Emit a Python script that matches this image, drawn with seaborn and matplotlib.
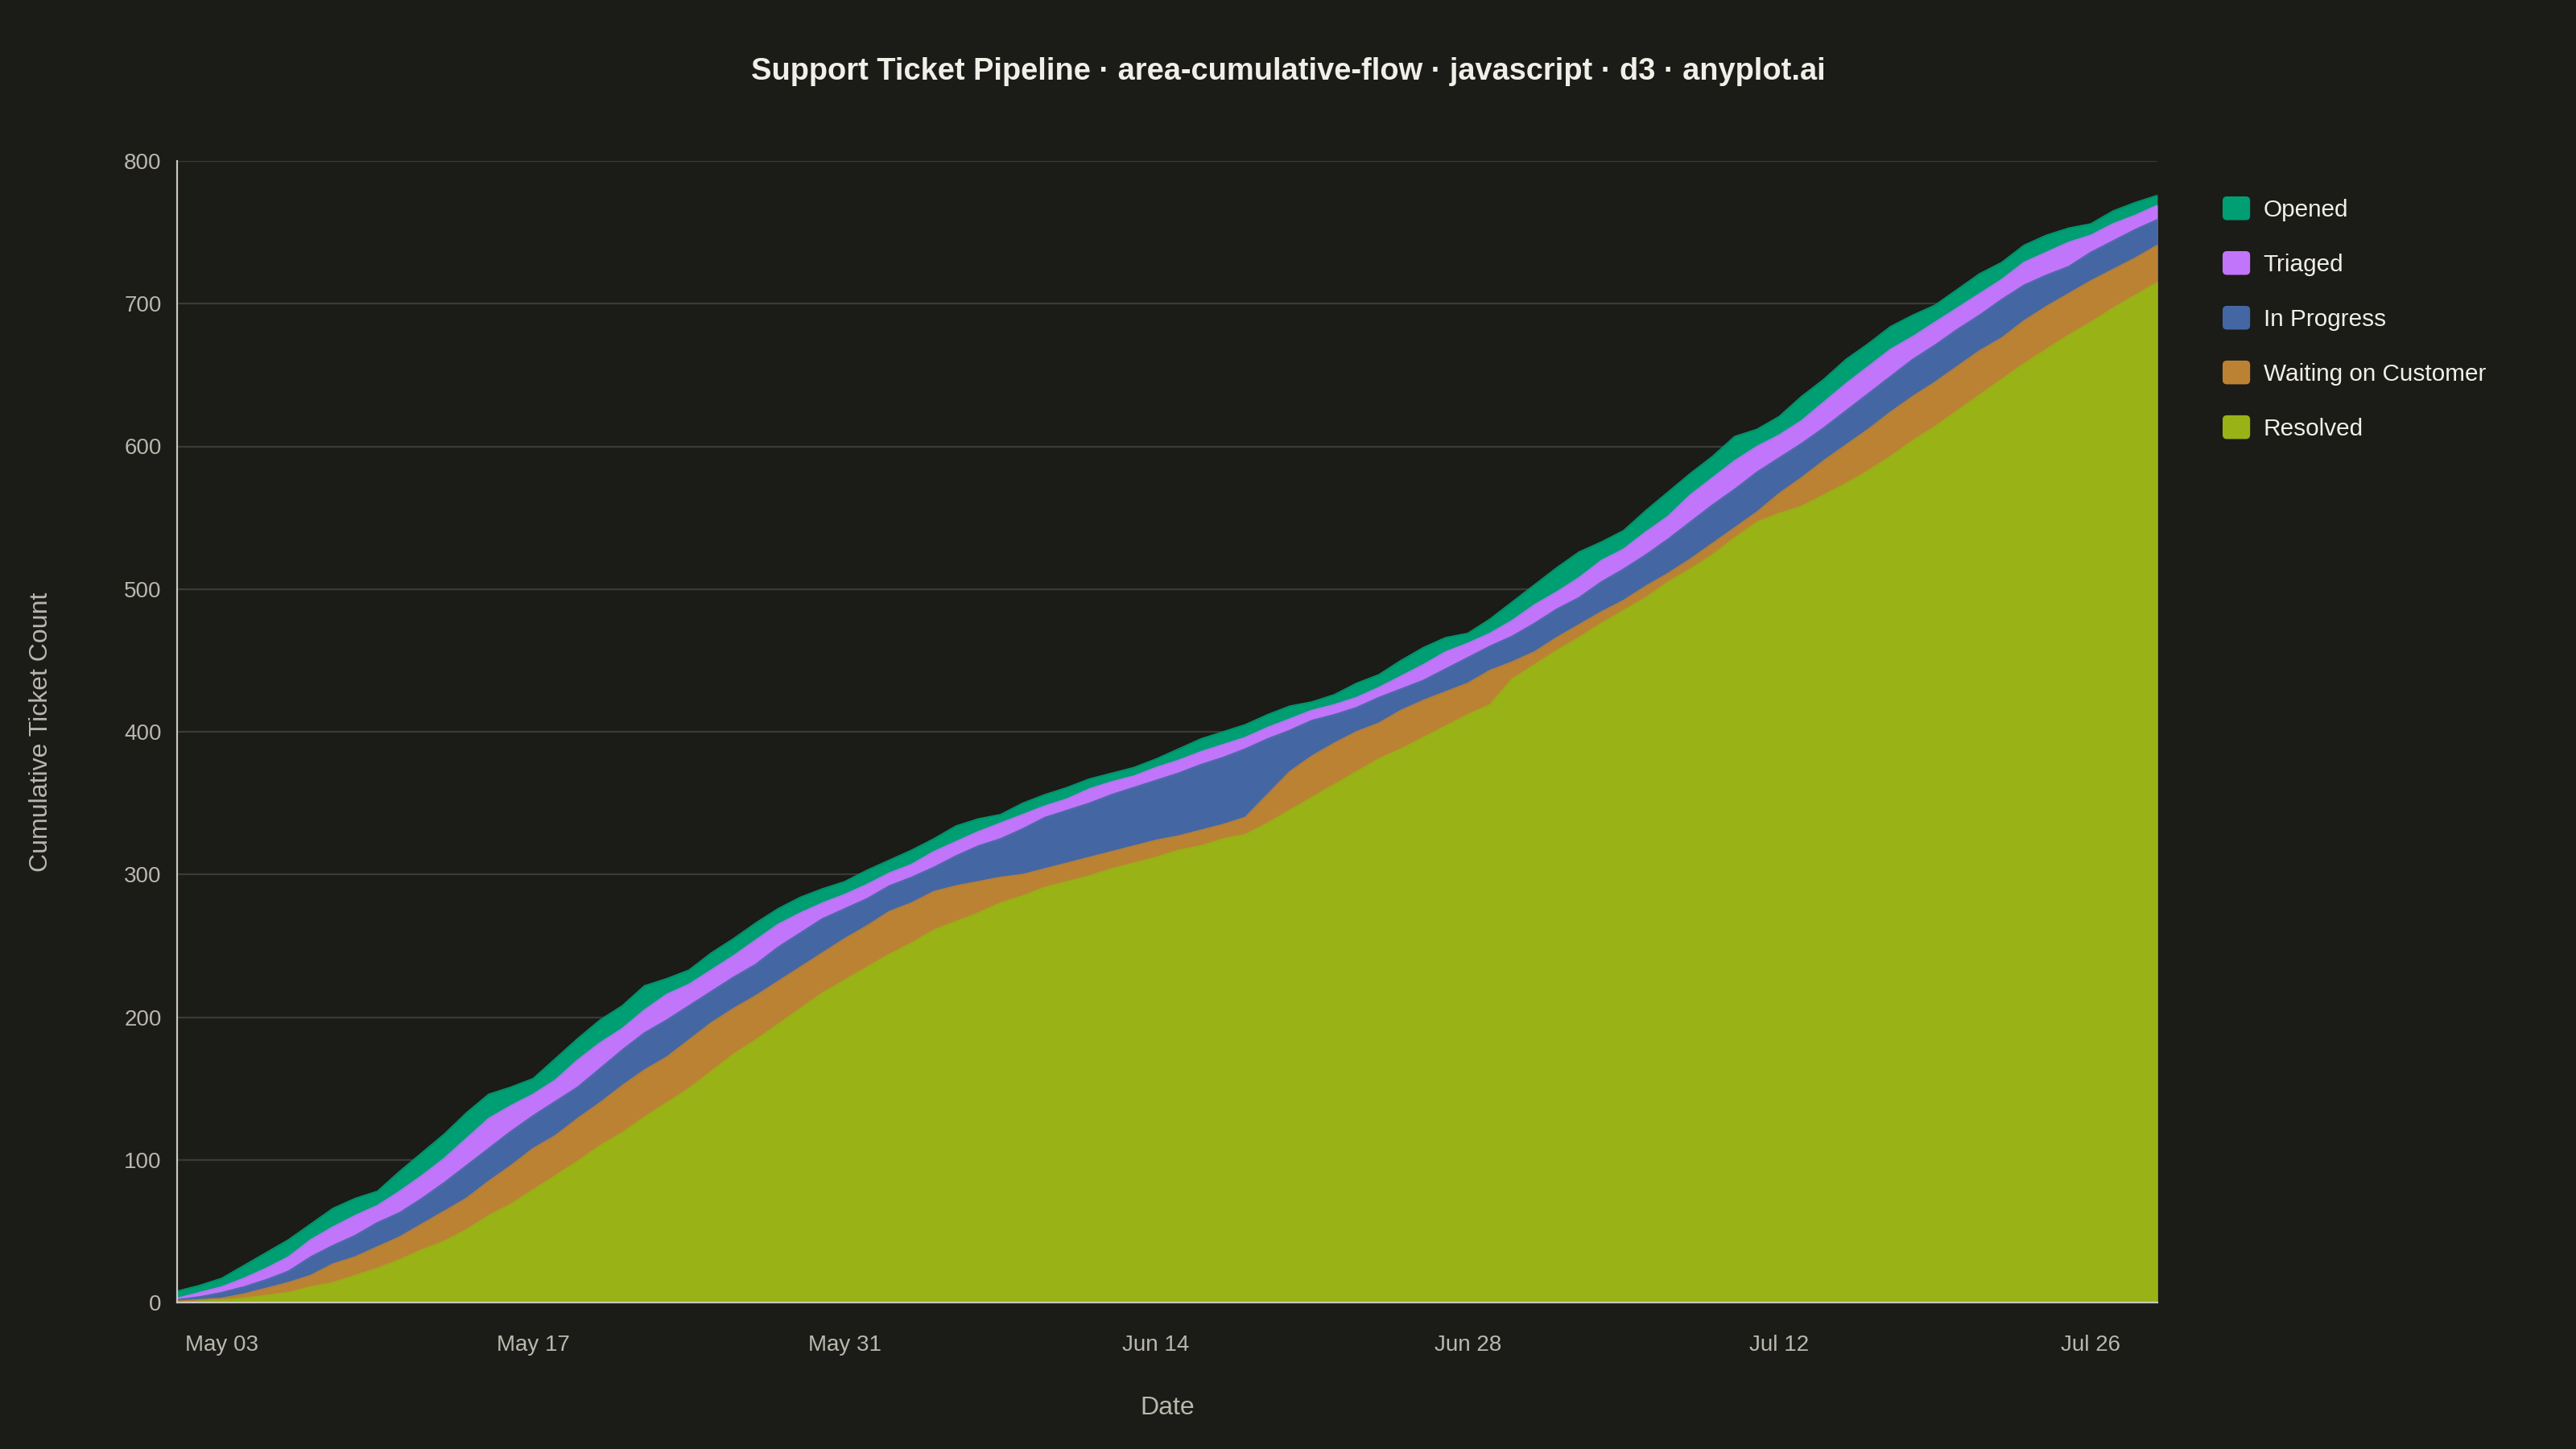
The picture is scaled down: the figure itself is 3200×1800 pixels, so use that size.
import pandas as pd
import numpy as np
import matplotlib
matplotlib.use("Agg")
import matplotlib.pyplot as plt
import matplotlib.dates as mdates
from matplotlib.patches import Patch, FancyBboxPatch
from matplotlib.legend_handler import HandlerPatch
import seaborn as sns

# cumulative tickets that reached each stage, one value per day from May 01
start_date = "2026-05-01"
n_days = 90

opened = [8, 12, 17, 26, 35, 44, 55, 66, 73, 78, 92, 105, 118, 133, 146, 151, 157, 171, 185, 198,
          208, 222, 227, 233, 245, 255, 266, 276, 284, 290, 295, 303, 310, 317, 325, 334, 339, 342, 350, 356,
          361, 367, 371, 375, 381, 388, 395, 400, 405, 412, 418, 421, 426, 434, 440, 450, 459, 466, 469, 479,
          491, 503, 515, 526, 533, 541, 555, 568, 581, 593, 607, 612, 621, 635, 647, 661, 672, 684, 692, 699,
          710, 721, 729, 741, 748, 753, 756, 765, 771, 776]
triaged = [3, 7, 11, 17, 24, 32, 44, 53, 61, 68, 78, 89, 101, 115, 129, 138, 146, 156, 170, 182,
           192, 205, 216, 223, 233, 243, 254, 265, 273, 280, 286, 293, 301, 307, 316, 323, 330, 336, 342, 348,
           353, 360, 365, 369, 375, 380, 386, 391, 396, 403, 409, 415, 419, 424, 431, 439, 447, 456, 462, 469,
           478, 489, 498, 508, 520, 528, 540, 551, 566, 578, 590, 600, 608, 618, 631, 644, 656, 668, 677, 687,
           697, 707, 717, 729, 736, 743, 748, 756, 762, 769]
in_progress = [2, 4, 7, 11, 16, 22, 32, 40, 47, 56, 63, 73, 84, 96, 108, 120, 131, 141, 151, 164,
               177, 189, 198, 208, 218, 228, 237, 249, 259, 269, 276, 283, 292, 298, 305, 313, 320, 325, 332, 340,
               345, 350, 356, 361, 366, 371, 377, 382, 388, 395, 401, 408, 412, 417, 424, 430, 436, 444, 452, 460,
               467, 476, 486, 494, 505, 514, 524, 535, 547, 559, 570, 582, 592, 602, 613, 625, 637, 649, 661, 671,
               682, 692, 703, 713, 720, 726, 736, 744, 752, 759]
waiting = [1, 2, 3, 6, 10, 14, 19, 27, 32, 39, 46, 55, 64, 73, 85, 96, 108, 117, 129, 140,
           152, 163, 172, 184, 196, 206, 215, 225, 235, 245, 255, 264, 274, 280, 288, 292, 295, 298, 300, 304,
           308, 312, 316, 320, 324, 327, 331, 335, 340, 356, 372, 383, 392, 400, 406, 415, 422, 428, 434, 443,
           449, 456, 466, 475, 484, 492, 502, 511, 521, 532, 543, 554, 567, 578, 590, 601, 612, 624, 635, 645,
           656, 667, 676, 688, 698, 707, 716, 724, 732, 741]
resolved = [0, 1, 2, 3, 5, 7, 11, 14, 19, 24, 30, 37, 43, 51, 61, 69, 79, 89, 99, 110,
            119, 130, 140, 150, 162, 174, 184, 195, 206, 217, 226, 235, 244, 252, 261, 267, 273, 280, 285, 291,
            295, 299, 304, 308, 312, 317, 320, 325, 328, 336, 345, 354, 363, 372, 381, 388, 396, 404, 412, 419,
            437, 447, 457, 466, 476, 485, 494, 505, 514, 524, 536, 547, 553, 558, 566, 574, 583, 593, 604, 614,
            625, 636, 647, 658, 668, 678, 687, 697, 706, 715]

stages = ["Opened", "Triaged", "In Progress", "Waiting on Customer", "Resolved"]
stage_colors = ["#009e73", "#c175fb", "#4467a3", "#bc8234", "#99b215"]

BG = "#1b1b17"
INK = "#f0efe8"
MUTED = "#b9b7ae"
GRID = "#3a3a36"

dates = pd.date_range(start_date, periods=n_days, freq="D")
df = pd.DataFrame({"date": dates, "Opened": opened, "Triaged": triaged,
                   "In Progress": in_progress, "Waiting on Customer": waiting,
                   "Resolved": resolved})

sns.set_theme(style="dark", rc={
    "figure.facecolor": BG, "axes.facecolor": BG, "savefig.facecolor": BG,
    "axes.edgecolor": "#c9c7be", "text.color": INK,
    "xtick.color": MUTED, "ytick.color": MUTED, "axes.labelcolor": MUTED,
})
plt.rcParams["font.family"] = ["Liberation Sans", "DejaVu Sans"]

palette = sns.color_palette(stage_colors)

fig = plt.figure(figsize=(16, 9), dpi=200)
ax = fig.add_axes([220 / 3200, 1 - 1618 / 1800, 2460 / 3200, 1418 / 1800])

# back to front: each stage covers the one that started before it
for i, stage in enumerate(stages):
    ax.fill_between(df["date"], 0, df[stage], color=palette[i], linewidth=0,
                    zorder=2 + i, label=stage)
    ax.plot(df["date"], df[stage], color=palette[i], linewidth=0.5, zorder=2 + i)

ax.set_xlim(dates[0], dates[-1])
ax.set_ylim(0, 800)
ax.set_yticks(np.arange(0, 801, 100))
ax.yaxis.grid(True, color=GRID, linewidth=0.8, zorder=0)
ax.xaxis.grid(False)

ax.set_xticks(pd.date_range("2026-05-03", dates[-1], freq="14D"))
ax.xaxis.set_major_formatter(mdates.DateFormatter("%b %d"))
ax.set_xticks([dates[0], dates[-1]], minor=True)

ax.tick_params(axis="both", which="both", labelsize=10, direction="out")
ax.tick_params(axis="x", which="both", length=4.5, width=0.6, color="#8a8880", pad=10)
ax.tick_params(axis="y", length=4.5, width=0.6, color=GRID, pad=2.5)

for side in ["top", "right"]:
    ax.spines[side].set_visible(False)
for side in ["left", "bottom"]:
    ax.spines[side].set_color("#c9c7be")
    ax.spines[side].set_linewidth(0.8)
    ax.spines[side].set_zorder(10)

ax.set_xlabel("Date", fontsize=11.5, color=MUTED)
ax.set_ylabel("Cumulative Ticket Count", fontsize=11.5, color=MUTED)
ax.xaxis.set_label_coords(0.5, -0.082)
ax.yaxis.set_label_coords(-0.0624, 0.5)

fig.text(0.5, 0.9505, "Support Ticket Pipeline · area-cumulative-flow · javascript · d3 · anyplot.ai",
         ha="center", va="center", fontsize=13.7, fontweight="bold", color=INK)


def rounded_swatch(legend, orig_handle, xdescent, ydescent, width, height, fontsize):
    return FancyBboxPatch((-xdescent, -ydescent), width, height,
                          boxstyle="round,pad=0,rounding_size=%.2f" % (0.18 * height))


handles = [Patch(facecolor=c, edgecolor="none", label=s) for s, c in zip(stages, palette)]
fig.legend(handles=handles, loc="upper left", bbox_to_anchor=(2761 / 3200, 1 - 244 / 1800),
           frameon=False, fontsize=10.7, handlelength=1.15, handleheight=1.15,
           handletextpad=0.55, labelspacing=1.25, borderpad=0, borderaxespad=0,
           labelcolor=INK, handler_map={Patch: HandlerPatch(patch_func=rounded_swatch)})

fig.savefig("out.png", dpi=200, facecolor=BG)
